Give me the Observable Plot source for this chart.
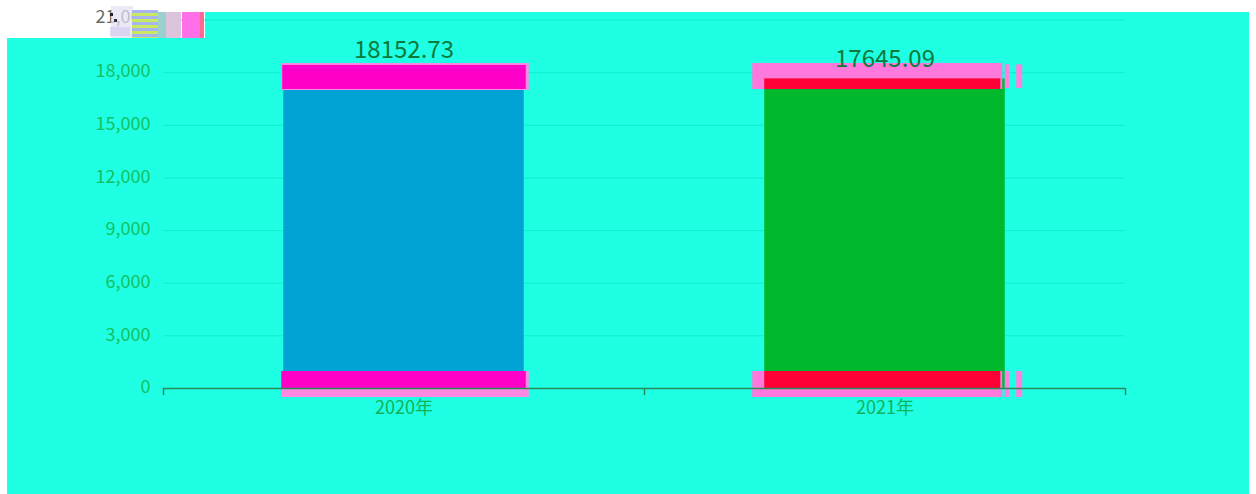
<!DOCTYPE html>
<html>
<head>
<meta charset="utf-8">
<script src="https://cdn.jsdelivr.net/npm/d3@7"></script>
<script src="https://cdn.jsdelivr.net/npm/@observablehq/plot@0.6"></script>
<style>
  html, body { margin: 0; padding: 0; background: #ffffff; }
  #wrap { position: relative; width: 1256px; height: 494px; overflow: hidden; background: #ffffff; }
  #bg { position: absolute; left: 7px; top: 12px; width: 1242px; height: 482px; background: #1fffe3; }
  #notch { position: absolute; left: 0; top: 0; width: 205px; height: 38px; background: #ffffff; }
  #chart { position: absolute; left: 0; top: 0; }
  #noise { position: absolute; left: 0; top: 0; width: 210px; height: 40px; z-index: 3; pointer-events: none; }
  #noise div { position: absolute; }
</style>
</head>
<body>
<div id="wrap">
  <div id="bg"></div>
  <div id="notch"></div>
  <div id="chart"></div>
  <div id="noise">
    <div style="left:111px;top:6px;width:22px;height:32px;background:#e4e0f4;opacity:0.7"></div>
    <div style="left:110px;top:13px;width:3px;height:3px;background:#222"></div>
    <div style="left:114px;top:19px;width:3px;height:3px;background:#333"></div>
    <div style="left:110px;top:27px;width:20px;height:9px;background:#d8d0f0;opacity:0.8"></div>
    <div style="left:132px;top:10px;width:26px;height:28px;background:repeating-linear-gradient(#a8b4f0 0 3px,#c8e860 3px 6px)"></div>
    <div style="left:158px;top:12px;width:8px;height:26px;background:#9ccfd0"></div>
    <div style="left:166px;top:12px;width:15px;height:26px;background:#dcc4dc"></div>
    <div style="left:182px;top:12px;width:18px;height:26px;background:#ff70e8"></div>
    <div style="left:200px;top:12px;width:4px;height:26px;background:#ff6a90"></div>
  </div>
</div>
<script>
// ---- data ----
const categories = ["2020年", "2021年"];
const totals = [18152.73, 17645.09];
const yTicks = [0, 3000, 6000, 9000, 12000, 15000, 18000];
const yTopTick = 21000;
const valueLabels = ["18152.73", "17645.09"];

const rows = categories.map((c, i) => ({cat: c, i, value: totals[i], label: valueLabels[i]}));
const boundaries = d3.range(categories.length + 1);
const r0 = rows.filter(d => d.i === 0);
const r1 = rows.filter(d => d.i === 1);

const font = "'Microsoft YaHei', 'Noto Sans CJK SC', 'Noto Sans', sans-serif";
const gridColor = "#0df0cc";
const axisColor = "#2a8a58";

const bx1 = d => d.i + 0.25, bx2 = d => d.i + 0.75;

function capTop(data, o) {
  return Plot.rect(data, {x1: bx1, x2: bx2, y1: d => d.value, y2: d => d.value, ...o});
}
function capBottom(data, o) {
  return Plot.rect(data, {x1: bx1, x2: bx2, y1: () => 0, y2: () => 0, ...o});
}
function strip(data, yv, o) {
  return Plot.rect(data, {x1: bx2, x2: bx2, y1: yv, y2: yv, ...o});
}

const plot = Plot.plot({
  width: 1256,
  height: 494,
  marginLeft: 163,
  marginRight: 131,
  marginTop: 19.5,
  marginBottom: 106,
  style: {background: "transparent", fontFamily: font, overflow: "visible"},
  x: {domain: [0, categories.length], axis: null},
  y: {domain: [0, yTopTick], axis: null},
  marks: [
    Plot.ruleY(yTicks.slice(1).concat([yTopTick]), {stroke: gridColor, strokeWidth: 1}),
    // y tick labels
    Plot.text(yTicks, {x: 0, y: d => d, text: d => d3.format(",")(d), textAnchor: "end", dx: -13, dy: -1, fill: "#12c262", fontSize: 18, fontFamily: font}),
    Plot.text([yTopTick], {x: 0, y: d => d, text: d => d3.format(",")(d), textAnchor: "end", dx: -13, dy: -3, fill: "#6a6a6a", fontSize: 18, fontFamily: font}),
    // main bars
    Plot.rect(r0, {x1: bx1, x2: bx2, y1: 0, y2: d => d.value, fill: "#00a3d4"}),
    Plot.rect(r1, {x1: bx1, x2: bx2, y1: 0, y2: d => d.value, fill: "#00b82e"}),
    // 2020 caps (magenta)
    capTop(r0, {insetTop: -6.5, insetBottom: -20.5, insetLeft: -2, insetRight: -5, fill: "#ff88e2"}),
    capTop(r0, {insetTop: -4.5, insetBottom: -19.5, insetLeft: -1, insetRight: -2, fill: "#ff00c8"}),
    capBottom(r0, {insetTop: -17, insetBottom: -9, insetLeft: -2, insetRight: -5, fill: "#ff88e2"}),
    capBottom(r0, {insetTop: -17, insetBottom: 0, insetLeft: -2, insetRight: -2, fill: "#ff00c8"}),
    // 2021 caps (pink + red)
    capTop(r1, {insetTop: -15.4, insetBottom: -10.6, insetLeft: -12, insetRight: 2.5, fill: "#ff78dc"}),
    capTop(r1, {insetTop: 0, insetBottom: -10.6, insetLeft: 0, insetRight: 4.5, fill: "#ff0036"}),
    capBottom(r1, {insetTop: -17, insetBottom: -9, insetLeft: -12, insetRight: 2.5, fill: "#ff78dc"}),
    capBottom(r1, {insetTop: -17, insetBottom: 0, insetLeft: 0, insetRight: 4.5, fill: "#ff0036"}),
    // glitch strips right of 2021 bar
    strip(r1, d => d.value, {insetTop: -14, insetBottom: -9.6, insetLeft: 0, insetRight: -4.5, fill: "#ff80de"}),
    strip(r1, d => d.value, {insetTop: -14, insetBottom: -9.6, insetLeft: 11.5, insetRight: -17.5, fill: "#ff80de"}),
    strip(r1, () => 0, {insetTop: -17, insetBottom: -9, insetLeft: 0, insetRight: -4.5, fill: "#ff80de"}),
    strip(r1, () => 0, {insetTop: -17, insetBottom: -9, insetLeft: 11.5, insetRight: -17.5, fill: "#ff80de"}),
    // x axis line + ticks
    Plot.ruleY([0], {stroke: axisColor, strokeWidth: 1.5}),
    Plot.ruleX(boundaries, {x: d => d, y1: 0, y2: 0, insetBottom: -7, stroke: axisColor, strokeWidth: 1.5}),
    // x labels
    Plot.text(rows, {x: d => d.i + 0.5, y: 0, text: "cat", dy: 20, fill: "#12b25c", fontSize: 18, fontFamily: font}),
    // value labels
    Plot.text(rows, {x: d => d.i + 0.5, y: d => d.value, text: "label", dy: -12, lineAnchor: "bottom", fill: "#0b7a3a", fontSize: 24, fontFamily: font})
  ]
});
document.getElementById("chart").appendChild(plot);
</script>
</body>
</html>
